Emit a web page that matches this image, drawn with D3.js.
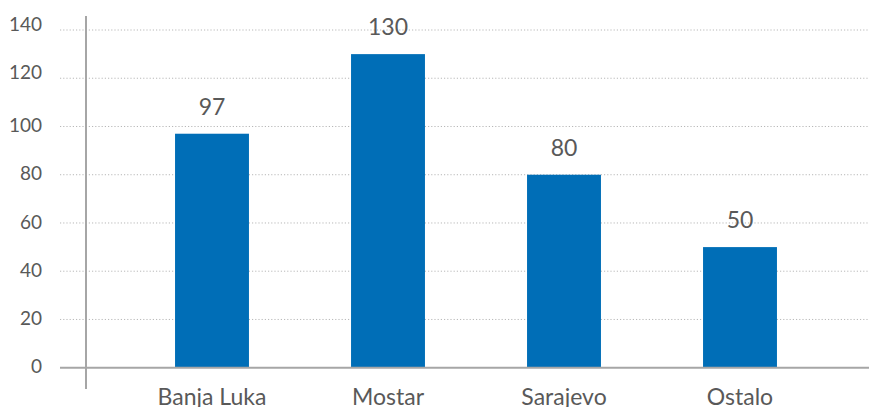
<!DOCTYPE html>
<html>
<head>
<meta charset="utf-8">
<script src="https://cdn.jsdelivr.net/npm/d3@7"></script>
<style>
    body { margin: 0; background: #fff; }
    text { font-family: Lato, "Open Sans", sans-serif; fill: #595959; }
</style>
</head>
<body>
<svg id="chart" width="869" height="407"></svg>
<script>
const categories = ['Banja Luka', 'Mostar', 'Sarajevo', 'Ostalo'];
const values = [97, 130, 80, 50];
const yTicks = [0, 20, 40, 60, 80, 100, 120, 140];

const svg = d3.select('#chart');

// scales
let xScale = d3.scaleBand()
    .domain(categories)
    .range([124, 828])
    .paddingInner(0.58)
    .paddingOuter(0.29);
let yScale = d3.scaleLinear()
    .domain([0, 140])
    .range([367.7, 30]);

// dotted gridlines
svg.append('g').selectAll('line')
    .data(yTicks.filter(d => d > 0))
    .enter().append('line')
    .attr('x1', 60)
    .attr('x2', 869)
    .attr('y1', d => yScale(d))
    .attr('y2', d => yScale(d))
    .attr('stroke', '#b8b8b8')
    .attr('stroke-width', 1)
    .attr('stroke-dasharray', '1.2,2');

// tick labels
svg.append('g').selectAll('text')
    .data(yTicks)
    .enter().append('text')
    .attr('x', 42)
    .attr('y', d => yScale(d))
    .attr('dy', d => d >= 120 ? '0.05em' : '0.3em')
    .attr('text-anchor', 'end')
    .style('font-size', '19px')
    .text(d => d);

// bars
const data = categories.map((c, i) => ({ name: c, value: values[i] }));
svg.append('g').selectAll('rect')
    .data(data)
    .enter().append('rect')
    .attr('x', d => xScale(d.name))
    .attr('width', xScale.bandwidth())
    .attr('y', d => yScale(d.value))
    .attr('height', d => yScale(0) - yScale(d.value))
    .attr('fill', '#006eb7');

// value labels
svg.append('g').selectAll('text')
    .data(data)
    .enter().append('text')
    .attr('x', d => xScale(d.name) + xScale.bandwidth() / 2)
    .attr('y', d => yScale(d.value) - 19)
    .attr('text-anchor', 'middle')
    .style('font-size', '23px')
    .text(d => d.value);

// axes lines
svg.append('line')
    .attr('x1', 60).attr('x2', 869)
    .attr('y1', yScale(0)).attr('y2', yScale(0))
    .attr('stroke', '#a6a6a6')
    .attr('stroke-width', 2);
svg.append('line')
    .attr('x1', 86).attr('x2', 86)
    .attr('y1', 16).attr('y2', 389)
    .attr('stroke', '#a6a6a6')
    .attr('stroke-width', 2);

// category labels (descenders run off the bottom edge, as in the original)
svg.append('g').selectAll('text')
    .data(categories)
    .enter().append('text')
    .attr('x', d => xScale(d) + xScale.bandwidth() / 2)
    .attr('y', 405)
    .attr('text-anchor', 'middle')
    .style('font-size', '23px')
    .text(d => d);
</script>
</body>
</html>
